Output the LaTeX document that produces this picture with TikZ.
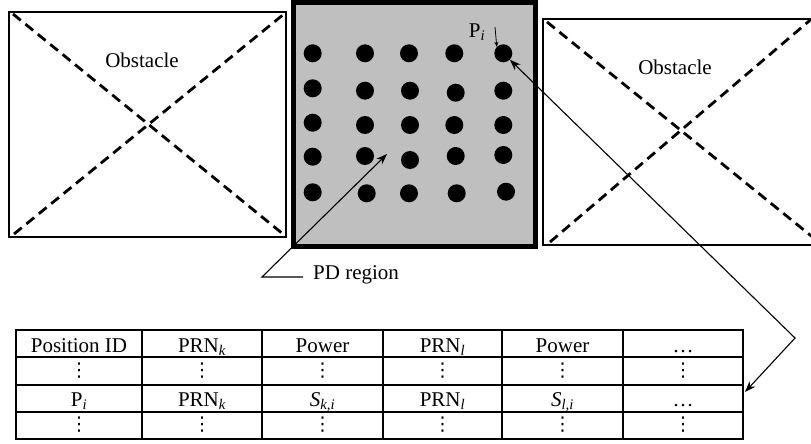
\documentclass[tikz,border=0pt]{standalone}
\usepackage{fontspec}
\setmainfont{Liberation Serif}
\newfontfamily\dvs{DejaVu Sans}
\usetikzlibrary{arrows.meta}
\newcommand\myvd{{\dvs ⋮}}
\begin{document}
\begin{tikzpicture}[x=1pt,y=-1pt,
  obst/.style={draw=black,line width=2.4pt},
  diag/.style={line width=2.8pt,dash pattern=on 10pt off 6pt},
  pdot/.style={circle,fill=black,inner sep=0pt,minimum size=18pt},
  lbl/.style={font=\fontsize{21}{24}\selectfont,inner sep=0pt},
  cell/.style={font=\fontsize{21}{24}\selectfont,inner sep=0pt,anchor=base},
  vcell/.style={font=\fontsize{19}{22}\selectfont,inner sep=0pt},
  conn/.style={line width=1.1pt},
  tip/.style={-{Stealth[length=11pt,width=8pt]}}]
\useasboundingbox (0,0) rectangle (811,444);

% left obstacle
\draw[obst] (9,12) rectangle (286,237);
\draw[diag] (13,14) -- (283,234);
\draw[diag] (14,234) -- (284,14);
\node[lbl] (ob1) at (142,60) {Obstacle};

% right obstacle
\draw[obst] (815,19) -- (543,19) -- (543,245) -- (815,245);
\draw[diag] (547,22) -- (815,239);
\draw[diag] (550,242) -- (815,16);
\node[lbl] (ob2) at (675,67) {Obstacle};

% PD region
\draw[line width=5pt,fill=black!25] (293.5,3) rectangle (535.5,246.5);
\foreach \n/\x/\y in {
  11/312.7/53.3, 12/365/53.3, 13/409/53.3, 14/454.3/53.3, 15/503.3/53.3,
  21/312.7/88.3, 22/365/90.7, 23/410/90.7, 24/455.7/92.7, 25/503.3/90.7,
  31/312.7/122.7, 32/365/125, 33/410/125, 34/454.3/125, 35/503.3/125,
  41/312.7/156.7, 42/365/156, 43/410/160, 44/455.7/156, 45/503.3/155,
  51/312.7/192.3, 52/366.7/193.3, 53/409/193.3, 54/456.7/193.3, 55/506/191.7}
  \node[pdot] (d\n) at (\x,\y) {};

\node[lbl] (pil) at (477,32) {P\textsubscript{\itshape i}};
\coordinate (pis) at (495,27);
\draw[line width=0.8pt,-{Stealth[length=5pt,width=4pt]}] (pis) -- (d15.north west);

\node[lbl,anchor=west] (pd) at (313,275) {PD region};
\coordinate (pdl) at (303,277);
\coordinate (pdb) at (262,277);
\coordinate (pdt) at (387,154);
\draw[conn,tip] (pdl) -- (pdb) -- (pdt);

% table
\begin{scope}[line width=1.2pt]
\draw (16,330) rectangle (743,439);
\foreach \y in {357,385,412} \draw (16,\y) -- (743,\y);
\foreach \x in {142,262,383,502,623} \draw (\x,330) -- (\x,439);
\end{scope}

\node[cell] (t11) at (79,352) {Position ID};
\node[cell] (t12) at (202,352) {PRN\textsubscript{\itshape k}};
\node[cell] (t13) at (322.5,352) {Power};
\node[cell] (t14) at (442.5,352) {PRN\textsubscript{\itshape l}};
\node[cell] (t15) at (562.5,352) {Power};
\node[cell] (t16) at (683,352) {\ldots};

\node[cell] (t31) at (79,406) {P\textsubscript{\itshape i}};
\node[cell] (t32) at (202,406) {PRN\textsubscript{\itshape k}};
\node[cell] (t33) at (322.5,406) {\textit{S}\textsubscript{\itshape k,i}};
\node[cell] (t34) at (442.5,406) {PRN\textsubscript{\itshape l}};
\node[cell] (t35) at (562.5,406) {\textit{S}\textsubscript{\itshape l,i}};
\node[cell] (t36) at (683,406) {\ldots};

\foreach \c/\x in {1/79,2/202,3/322.5,4/442.5,5/562.5,6/683} {
  \node[vcell] (t2\c) at (\x,370.5) {\myvd};
  \node[vcell] (t4\c) at (\x,425) {\myvd};
}

\coordinate (bend) at (795,338);
\coordinate (tabR) at (745,392);
\draw[conn,{Stealth[length=11pt,width=8pt]}-{Stealth[length=11pt,width=8pt]}] (d15) -- (bend) -- (tabR);
\end{tikzpicture}
\end{document}
